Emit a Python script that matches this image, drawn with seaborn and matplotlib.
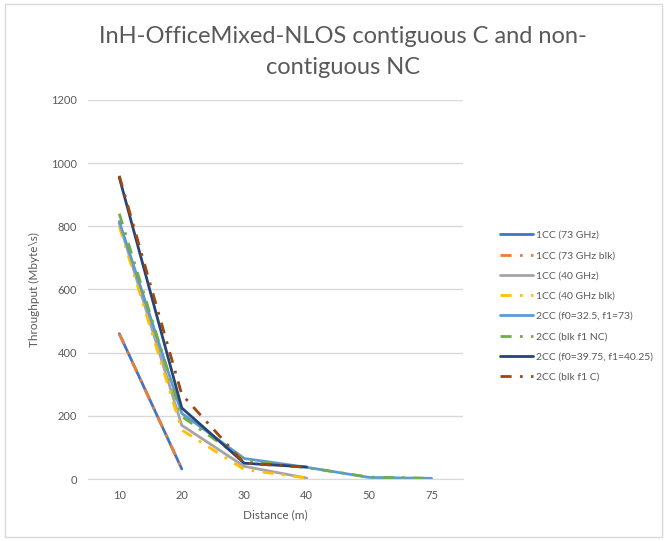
import numpy as np
import pandas as pd
import matplotlib
matplotlib.use("Agg")
import matplotlib.pyplot as plt
import seaborn as sns
from matplotlib.patches import Rectangle

# distance categories (m)
distances = ["10", "20", "30", "40", "50", "75"]

# throughput values (NaN = no point)
cc1_73 = [460, 32, np.nan, np.nan, np.nan, np.nan]
cc1_73_blk = [460, 32, np.nan, np.nan, np.nan, np.nan]
cc1_40 = [810, 170, 40, 3, np.nan, np.nan]
cc1_40_blk = [800, 155, 30, 3, np.nan, np.nan]
cc2_325_73 = [815, 208, 65, 37, 5, 2]
cc2_blk_nc = [840, 198, 60, 36, 6, 2]
cc2_3975_4025 = [955, 225, 50, 38, np.nan, np.nan]
cc2_blk_c = [960, 268, 50, 37, np.nan, np.nan]

series_names = ["1CC (73 GHz)", "1CC (73 GHz blk)", "1CC (40 GHz)", "1CC (40 GHz blk)",
                "2CC (f0=32.5, f1=73)", "2CC (blk f1 NC)", "2CC (f0=39.75, f1=40.25)",
                "2CC (blk f1 C)"]
series_values = [cc1_73, cc1_73_blk, cc1_40, cc1_40_blk,
                 cc2_325_73, cc2_blk_nc, cc2_3975_4025, cc2_blk_c]
colors = ["#4472C4", "#ED7D31", "#A5A5A5", "#FFC000",
          "#5B9BD5", "#70AD47", "#264478", "#9E480E"]
dashdot = (0, (4, 3, 1, 3))
styles = ["-", dashdot, "-", dashdot, "-", dashdot, "-", dashdot]

sns.set_style("white")
plt.rcParams['font.family'] = ['Lato', 'DejaVu Sans']

fig = plt.figure(figsize=(6.67, 5.41), dpi=100)
ax = fig.add_axes([0.132, 0.1146, 0.562, 0.7006])

pos = np.arange(len(distances))
for name, vals, c, ls in zip(series_names, series_values, colors, styles):
    df = pd.DataFrame({"x": pos, "y": vals}).dropna()
    sns.lineplot(data=df, x="x", y="y", ax=ax, color=c, linewidth=2.0,
                 linestyle=ls, label=name)

ax.set_xlim(-0.5, len(distances) - 0.5)
ax.set_ylim(0, 1200)
ax.set_xticks(pos)
ax.set_xticklabels(distances)
ax.set_yticks(np.arange(0, 1201, 200))
ax.tick_params(axis="both", length=0, labelsize=8, labelcolor="#595959", pad=8)
ax.yaxis.grid(True, color="#d9d9d9", linewidth=1)
for s in ["top", "right", "left"]:
    ax.spines[s].set_visible(False)
ax.spines["bottom"].set_color("#d9d9d9")
ax.set_axisbelow(True)

ax.set_xlabel("Distance (m)", fontsize=8.5, color="#595959", labelpad=6)
ax.set_ylabel("Throughput (Mbyte\\s)", fontsize=8.5, color="#595959", labelpad=8)

fig.text(0.514, 0.904, "InH-OfficeMixed-NLOS contiguous C and non-\ncontiguous NC",
         ha="center", va="center", fontsize=17, color="#595959", linespacing=1.55)

leg = ax.legend(loc="center left", bbox_to_anchor=(0.735, 0.434),
                bbox_transform=fig.transFigure, frameon=False, fontsize=7.5,
                labelcolor="#595959", handlelength=3.2, handletextpad=0.3,
                labelspacing=1.05)

fig.patches.append(Rectangle((0.008, 0.008), 0.984, 0.984, transform=fig.transFigure,
                             fill=False, edgecolor="#d9d9d9", linewidth=1))

fig.savefig("out.png", dpi=100)
